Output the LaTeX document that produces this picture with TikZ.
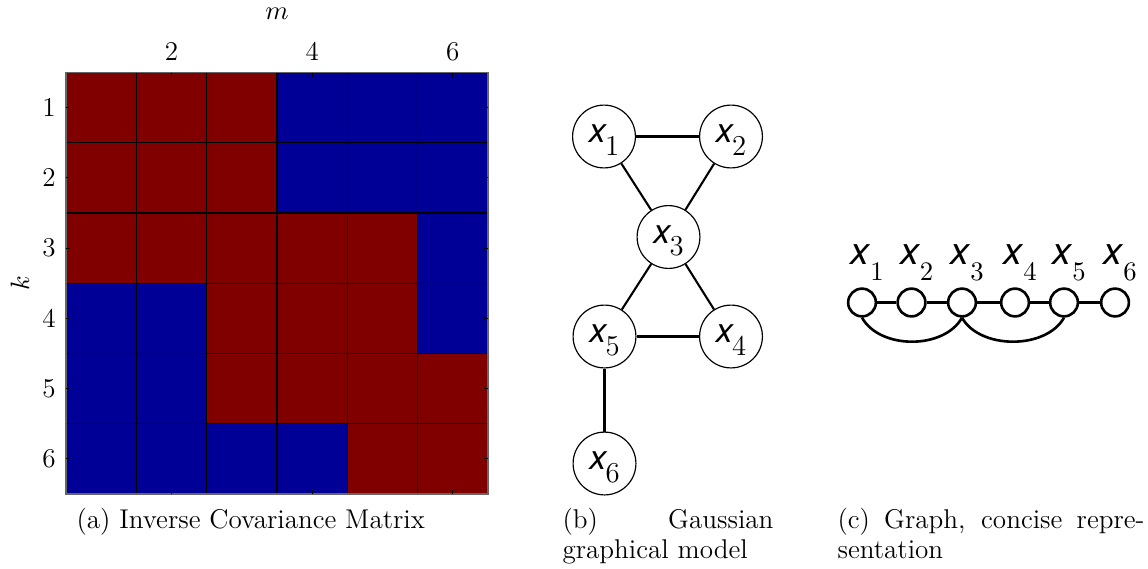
\documentclass[tikz,border=0pt]{standalone}
\usepackage{fontspec}
\usetikzlibrary{calc}
\newfontfamily\heros{TeX Gyre Heros}
\definecolor{mred}{RGB}{128,0,0}
\definecolor{mblue}{RGB}{0,0,150}
\newcommand{\bvar}[1]{{\fontsize{13}{13}\selectfont\heros\itshape x}\kern-0.3pt\raisebox{-4.8pt}{\fontsize{11}{11}\selectfont #1}}
\newcommand{\cvar}[1]{{\fontsize{14.5}{14.5}\selectfont\heros\itshape x}\kern0.3pt\raisebox{-6.4pt}{\fontsize{10.2}{10.2}\selectfont #1}}
\newcommand{\sct}[1]{\scalebox{0.925}{#1}}
\begin{document}
\begin{tikzpicture}[x=0.382pt,y=-0.382pt,
  every node/.style={font=\fontsize{11.2}{11.5}\selectfont},
  gridline/.style={black,line width=0.55pt},
  tickmark/.style={black,line width=0.3pt},
  bnode/.style={circle,draw,line width=0.45pt,minimum size=24pt,inner sep=0pt,text height=7pt,text depth=2.2pt},
  bedge/.style={line width=0.8pt},
  cnode/.style={circle,draw,line width=1pt,minimum size=10.6pt,inner sep=0pt},
  cedge/.style={line width=1pt},
  captext/.style={anchor=base west,inner sep=0pt,align=left}]
\useasboundingbox (0,0) rectangle (1148,568);
% matrix cells
\def\cw{70.33}\def\ch{70.25}
\foreach \r/\row in {1/{R,R,R,B,B,B},2/{R,R,R,B,B,B},3/{R,R,R,R,R,B},4/{B,B,R,R,R,B},5/{B,B,R,R,R,R},6/{B,B,B,B,R,R}}{
  \foreach \c [count=\ci] in \row {
    \if\c R\def\cc{mred}\else\def\cc{mblue}\fi
    \fill[\cc] ({66+(\ci-1)*\cw},{72.5+(\r-1)*\ch}) rectangle ++(\cw,\ch);
  }
}
\foreach \i in {0,...,6}{
  \draw[gridline] ({66+\i*\cw},72.5) -- ({66+\i*\cw},494);
  \draw[gridline] (66,{72.5+\i*\ch}) -- (488,{72.5+\i*\ch});
}
\draw[line width=0.5pt,black!60] (66,72.5) rectangle (488,494);
% ticks
\foreach \i in {2,4,6}{
  \draw[tickmark] ({66+(\i-0.5)*\cw},72.5) -- ++(0,4);
  \draw[tickmark] ({66+(\i-0.5)*\cw},494) -- ++(0,-4);
  \node[anchor=base] (xt\i) at ({66+(\i-0.5)*\cw},60) {\sct{\i}};
}
\foreach \i in {1,...,6}{
  \draw[tickmark] (66,{72.5+(\i-0.5)*\ch}) -- ++(4,0);
  \draw[tickmark] (488,{72.5+(\i-0.5)*\ch}) -- ++(-4,0);
  \node (yt\i) at (49,{72.5+(\i-0.5)*\ch}) {\sct{\i}};
}
\node[anchor=base,inner sep=0pt] (mlab) at (277,19) {\sct{$m$}};
\node[rotate=90,inner sep=0pt] (klab) at (20,283) {\sct{$k$}};
% (b) graph
\node[bnode] (b1) at (604,136.5) {\bvar{1}};
\node[bnode] (b2) at (731,136.5) {\bvar{2}};
\node[bnode] (b3) at (668.5,237) {\bvar{3}};
\node[bnode] (b5) at (604.5,336.5) {\bvar{5}};
\node[bnode] (b4) at (731,336.5) {\bvar{4}};
\node[bnode] (b6) at (604.5,463.5) {\bvar{6}};
\draw[bedge] (b1) -- (b2);
\draw[bedge] (b1) -- (b3);
\draw[bedge] (b2) -- (b3);
\draw[bedge] (b3) -- (b5);
\draw[bedge] (b3) -- (b4);
\draw[bedge] (b5) -- (b4);
\draw[bedge] (b5) -- (b6);
% (c) graph
\foreach \i/\xx in {1/862,2/911.5,3/962,4/1015,5/1064,6/1115}{
  \node[cnode] (c\i) at (\xx,302.5) {};
  \node[anchor=base west,inner sep=0pt] (l\i) at ({\xx-12},264) {\cvar{\i}};
}
\foreach \a/\b in {1/2,2/3,3/4,4/5,5/6}{
  \draw[cedge] (c\a) -- (c\b);
}
\draw[cedge] (c1.south) .. controls ($(c1.south)+(18,32)$) and ($(c3.south)+(-18,32)$) .. (c3.south);
\draw[cedge] (c3.south) .. controls ($(c3.south)+(18,32)$) and ($(c5.south)+(-18,32)$) .. (c5.south);
% captions
\node[captext] (capa) at (76,528) {\sct{(a) Inverse Covariance Matrix}};
\node[captext] (capb) at (562,528) {\sct{\parbox[t]{87.1pt}{\lineskiplimit=-10pt\baselineskip=12.4pt\makebox[87.1pt][s]{(b) Gaussian}\\graphical model}}};
\node[captext] (capc) at (837,528) {\sct{\parbox[t]{126.8pt}{\lineskiplimit=-10pt\baselineskip=12.4pt\makebox[126.8pt][s]{(c) Graph, concise repre-}\\sentation}}};
\end{tikzpicture}
\end{document}
